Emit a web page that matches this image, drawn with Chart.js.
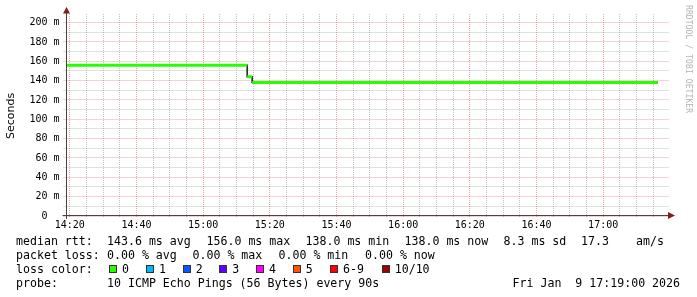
<!DOCTYPE html>
<html><head><meta charset="utf-8">
<script src="https://cdn.jsdelivr.net/npm/chart.js@4/dist/chart.umd.min.js"></script>
<style>
html,body{margin:0;padding:0;background:#fff;}
#wrap{position:relative;width:697px;height:297px;overflow:hidden;background:#fff;}
canvas{position:absolute;left:0;top:0;}
.t{position:absolute;font-family:"DejaVu Sans Mono",monospace;font-size:11.6px;line-height:14px;white-space:pre;color:#000;}
.box{position:absolute;width:6px;height:6px;border:1px solid #333;}
#wm{position:absolute;left:691.8px;top:5px;font-family:"DejaVu Sans Mono",monospace;font-size:8px;line-height:8px;white-space:pre;color:#b4b4b4;transform:rotate(90deg);transform-origin:0 0;letter-spacing:0.1px;}
</style></head><body>
<div id="wrap"><canvas id="c" width="697" height="297"></canvas><div id="wm">RRDTOOL / TOBI OETIKER</div></div>
<script>
// ---- data ----
const segStart  = ["14:19:00", "15:13:12", "15:14:42"];
const segEnd    = ["15:13:12", "15:14:42", "17:16:24"];
const medianRtt = [156.0, 144.0, 138.0];          // ms
const xTickLabels = ["14:20","14:40","15:00","15:20","15:40","16:00","16:20","16:40","17:00"];
const yTickValues = [0,20,40,60,80,100,120,140,160,180,200];
const lossLabels = ["0","1","2","3","4","5","6-9","10/10"];
const lossColors = ["#26ff00","#00b8ff","#0059ff","#5e00ff","#ff00ff","#ff5500","#ff0000","#a10000"];
const rttStats  = ["143.6 ms avg","156.0 ms max","138.0 ms min","138.0 ms now","8.3 ms sd","17.3","am/s"];
const lossStats = ["0.00 % avg","0.00 % max","0.00 % min","0.00 % now"];
const probeText = "10 ICMP Echo Pings (56 Bytes) every 90s";
const dateText  = "Fri Jan  9 17:19:00 2026";
const xStart = "14:19:00", xEnd = "17:19:00";

// ---- helpers ----
const toMin = s => { const p = s.split(':').map(Number); return p[0]*60 + p[1] + (p[2]||0)/60; };
const fmt = v => { const h = Math.floor(v/60), m = Math.round(v - h*60); return String(h).padStart(2,'0') + ':' + String(m).padStart(2,'0'); };

const stepLine = [], greenLine = [];
medianRtt.forEach((v, i) => {
  stepLine.push({x: toMin(segStart[i]), y: v}, {x: toMin(segEnd[i]), y: v});
  greenLine.push({x: toMin(segStart[i]), y: v}, {x: toMin(segEnd[i]), y: v}, {x: toMin(segEnd[i]), y: null});
});

const MAJOR = 'rgba(220,80,80,0.5)';
const MINOR = 'rgba(120,120,120,0.45)';
const CLEAR = 'rgba(0,0,0,0)';
const X0 = toMin(xTickLabels[0]);

// grid drawn through the chart's own scales, with RRDtool-style overhang
const gridPlugin = {
  id: 'rrdGrid',
  beforeDatasetsDraw(chart) {
    const {ctx, chartArea: a, scales: {x, y}} = chart;
    ctx.save();
    ctx.lineWidth = 1; ctx.setLineDash([1, 1]);
    const al = p => Math.round(p - 0.5) + 0.5;
    [false, true].forEach(major => {
      ctx.strokeStyle = major ? MAJOR : MINOR;
      ctx.beginPath();
      x.ticks.forEach(t => {
        if (((t.value - X0) % 20 === 0) !== major) return;
        const px = al(x.getPixelForValue(t.value));
        ctx.moveTo(px, a.top - 2); ctx.lineTo(px, a.bottom + 2);
      });
      y.ticks.forEach(t => {
        if ((t.value % 20 === 0) !== major) return;
        const py = al(y.getPixelForValue(t.value));
        ctx.moveTo(a.left - 3, py); ctx.lineTo(a.right + 2, py);
      });
      ctx.stroke();
    });
    ctx.restore();
  },
  afterDraw(chart) {
    const {ctx, chartArea: a} = chart;
    ctx.save();
    ctx.strokeStyle = '#444'; ctx.lineWidth = 1;
    ctx.beginPath();
    ctx.moveTo(a.left, a.bottom + 3); ctx.lineTo(a.left, 11);
    ctx.moveTo(a.left - 4, a.bottom - 0.5); ctx.lineTo(a.right + 3, a.bottom - 0.5);
    ctx.stroke();
    ctx.fillStyle = '#8b1a1a';
    ctx.beginPath();
    ctx.moveTo(a.left, 7); ctx.lineTo(a.left - 3.5, 13.5); ctx.lineTo(a.left + 3.5, 13.5); ctx.closePath(); ctx.fill();
    const ay = a.bottom - 0.5, ax = a.right + 1.5;
    ctx.beginPath();
    ctx.moveTo(ax + 7, ay); ctx.lineTo(ax, ay - 3.5); ctx.lineTo(ax, ay + 3.5); ctx.closePath(); ctx.fill();
    ctx.restore();
  }
};

new Chart(document.getElementById('c'), {
  type: 'line',
  data: {
    datasets: [
      { data: greenLine, borderColor: '#26ff00', borderWidth: 3, pointRadius: 0, spanGaps: false, borderCapStyle: 'butt', order: 1 },
      { data: stepLine,  borderColor: '#1a1a1a', borderWidth: 1.5, pointRadius: 0, order: 2 }
    ]
  },
  options: {
    responsive: false, animation: false, devicePixelRatio: 1,
    layout: { padding: { left: 0, top: 16, right: 30.5, bottom: 61 } },
    plugins: { legend: { display: false }, tooltip: { enabled: false } },
    scales: {
      x: {
        type: 'linear', min: toMin(xStart), max: toMin(xEnd),
        afterBuildTicks: s => { const t = []; for (let v = X0; v < s.max; v += 5) t.push({value: v}); s.ticks = t; },
        afterFit: s => { s.height = 20; },
        ticks: { autoSkip: false, maxRotation: 0, minRotation: 0, padding: 0, color: '#000',
          font: { family: 'DejaVu Sans Mono', size: 10 },
          callback: v => { const l = fmt(v); return xTickLabels.includes(l) ? l : ''; } },
        grid: { color: CLEAR, tickColor: CLEAR, tickLength: 3 },
        border: { display: false }
      },
      y: {
        type: 'linear', min: 0, max: 206.8,
        afterBuildTicks: s => { const t = []; for (let v = 0; v <= 200; v += 10) t.push({value: v}); s.ticks = t; },
        afterFit: s => { s.width = 66.5; },
        ticks: { autoSkip: false, padding: 4, color: '#000', font: { family: 'DejaVu Sans Mono', size: 10 },
          callback: v => yTickValues.includes(v) ? (v === 0 ? '0  ' : v + ' m') : '' },
        grid: { color: CLEAR, tickColor: CLEAR, tickLength: 3 },
        border: { display: false },
        title: { display: true, text: 'Seconds', color: '#000', font: { family: 'DejaVu Sans', size: 11 }, padding: { top: 4.5, bottom: 0 } }
      }
    }
  },
  plugins: [gridPlugin]
});

// ---- legend (HTML text) ----
const wrap = document.getElementById('wrap');
function txt(x, baseline, s) {
  const d = document.createElement('div'); d.className = 't';
  d.style.left = x + 'px'; d.style.top = (baseline - 11) + 'px'; d.textContent = s; wrap.appendChild(d);
}
const rows = [245.3, 259.2, 273.1, 287];
txt(16, rows[0], 'median rtt:');
[107, 206.5, 305.5, 404.5, 503.5, 581, 636].forEach((x, i) => txt(x, rows[0], rttStats[i]));
txt(16, rows[1], 'packet loss:');
[107, 192.5, 278.5, 365].forEach((x, i) => txt(x, rows[1], lossStats[i]));
txt(16, rows[2], 'loss color:');
const boxX = [109, 146, 182.7, 219.3, 256, 292.7, 330, 381.7];
lossLabels.forEach((l, i) => {
  const b = document.createElement('div'); b.className = 'box';
  b.style.left = boxX[i] + 'px'; b.style.top = '265px'; b.style.background = lossColors[i]; wrap.appendChild(b);
  txt(boxX[i] + 13, rows[2], l);
});
txt(16, rows[3], 'probe:');
txt(107, rows[3], probeText);
txt(512.5, rows[3], dateText);
</script>
</body></html>
